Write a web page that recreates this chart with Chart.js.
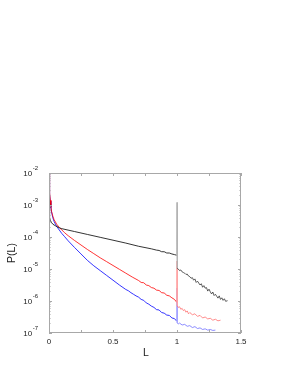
<!DOCTYPE html>
<html>
<head>
<meta charset="utf-8">
<script src="https://cdn.jsdelivr.net/npm/chart.js@4"></script>
<style>
  body { margin: 0; background: #fff; }
  canvas { display: block; }
</style>
</head>
<body>
<canvas id="myChart" width="291" height="376"></canvas>
<script>
// values, P stored as log10
var blackL = [0, 0.003, 0.006, 0.01, 0.02, 0.03, 0.05, 0.08, 0.1, 0.2, 0.3, 0.4, 0.5, 0.6, 0.7, 0.8, 0.82, 0.84, 0.86, 0.88, 0.9, 0.92, 0.94, 0.96, 0.98, 0.998,
  1.0, 1.002, 1.01, 1.02, 1.03, 1.04, 1.05, 1.06, 1.07, 1.08, 1.09, 1.1, 1.11, 1.12, 1.13, 1.14, 1.15, 1.16, 1.17, 1.18, 1.19, 1.2, 1.21, 1.22, 1.23, 1.24, 1.25,
  1.26, 1.27, 1.28, 1.29, 1.3, 1.31, 1.32, 1.33, 1.34, 1.35, 1.36, 1.37, 1.38, 1.395];
var blackLogP = [-2.95, -3.25, -3.4, -3.48, -3.55, -3.6, -3.65, -3.71, -3.74, -3.83, -3.92, -4.01, -4.1, -4.19, -4.29, -4.37, -4.39, -4.41, -4.42, -4.46, -4.46, -4.5, -4.5, -4.53, -4.55, -4.57,
  -2.92, -4.98, -5.0, -5.05, -5.03, -5.09, -5.11, -5.13, -5.17, -5.16, -5.22, -5.24, -5.29, -5.27, -5.35, -5.31, -5.42, -5.38, -5.44, -5.5, -5.46, -5.57, -5.52, -5.6, -5.58, -5.69, -5.63,
  -5.71, -5.78, -5.72, -5.83, -5.79, -5.85, -5.91, -5.84, -5.95, -5.9, -5.98, -5.93, -6.01, -5.99];

var redL = [0, 0.003, 0.006, 0.01, 0.015, 0.02, 0.03, 0.04, 0.06, 0.08, 0.1, 0.12, 0.15, 0.2, 0.25, 0.3, 0.35, 0.4, 0.45, 0.5, 0.55, 0.6, 0.65, 0.7,
  0.72, 0.74, 0.76, 0.78, 0.8, 0.82, 0.84, 0.86, 0.88, 0.9, 0.92, 0.94, 0.96, 0.98, 0.998,
  1.0, 1.002, 1.01, 1.02, 1.03, 1.04, 1.05, 1.06, 1.07, 1.08, 1.09, 1.1, 1.12, 1.14, 1.16, 1.18, 1.2, 1.22, 1.24, 1.26, 1.28, 1.3, 1.32, 1.34];
var redLogP = [-2.0, -2.35, -2.6, -2.85, -3.05, -3.2, -3.35, -3.46, -3.6, -3.7, -3.78, -3.86, -3.96, -4.11, -4.25, -4.39, -4.52, -4.65, -4.77, -4.89, -5.01, -5.13, -5.25, -5.36,
  -5.42, -5.43, -5.5, -5.52, -5.58, -5.6, -5.66, -5.67, -5.74, -5.75, -5.82, -5.84, -5.9, -5.95, -6.04,
  -4.75, -6.15, -6.2, -6.18, -6.26, -6.23, -6.3, -6.27, -6.35, -6.31, -6.4, -6.36, -6.43, -6.4, -6.48, -6.45, -6.53, -6.5, -6.56, -6.54, -6.6, -6.57, -6.62, -6.6];

var blueL = [0, 0.003, 0.006, 0.01, 0.015, 0.02, 0.03, 0.04, 0.06, 0.08, 0.1, 0.12, 0.15, 0.2, 0.25, 0.3, 0.35, 0.4, 0.45, 0.5, 0.55, 0.6,
  0.62, 0.64, 0.66, 0.68, 0.7, 0.72, 0.74, 0.76, 0.78, 0.8, 0.82, 0.84, 0.86, 0.88, 0.9, 0.92, 0.94, 0.96, 0.98, 0.998,
  1.0, 1.002, 1.01, 1.02, 1.04, 1.06, 1.08, 1.1, 1.12, 1.14, 1.16, 1.18, 1.2, 1.22, 1.24, 1.26, 1.28, 1.3];
var blueLogP = [-2.0, -2.4, -2.65, -2.88, -3.08, -3.22, -3.4, -3.52, -3.67, -3.78, -3.89, -3.98, -4.12, -4.33, -4.53, -4.73, -4.9, -5.05, -5.2, -5.35, -5.5, -5.64,
  -5.68, -5.74, -5.79, -5.84, -5.88, -5.95, -5.98, -6.06, -6.1, -6.16, -6.2, -6.27, -6.28, -6.36, -6.38, -6.44, -6.45, -6.53, -6.55, -6.63,
  -5.6, -6.68, -6.72, -6.69, -6.75, -6.73, -6.79, -6.77, -6.83, -6.8, -6.86, -6.84, -6.89, -6.87, -6.91, -6.89, -6.92, -6.91];

var xTicks = [0, 0.5, 1, 1.5];
var xTickLabels = ['0', '0.5', '1', '1.5'];
var xMinorTicks = [0.25, 0.75, 1.25];
var yExponents = [-2, -3, -4, -5, -6, -7];

var FONT = '"Liberation Sans", Arial, sans-serif';

function points(xs, logs) {
    return xs.map(function (x, i) { return { x: x, y: Math.pow(10, logs[i]) }; });
}

// spike at L=1 and the tail after it look paler in the picture
function tailColor(main, tail, spike) {
    return function (s) {
        if (s.p0.parsed.x === 1.0 || s.p1.parsed.x === 1.0) return spike;
        return s.p0.parsed.x > 1.0 ? tail : main;
    };
}

// box, inward ticks and labels (gnuplot look)
var frame = {
    id: 'frame',
    afterDatasetsDraw: function (chart) {
        var c = chart.ctx, a = chart.chartArea;
        var xs = chart.scales.x, ys = chart.scales.y;
        c.save();
        c.strokeStyle = '#a8a8a8';
        c.lineWidth = 1;
        c.strokeRect(a.left + 0.5, a.top + 0.5, a.right - a.left - 1, a.bottom - a.top - 1);

        c.beginPath();
        xTicks.concat(xMinorTicks).forEach(function (v) {
            var px = Math.round(xs.getPixelForValue(v)) + 0.5;
            c.moveTo(px, a.bottom); c.lineTo(px, a.bottom - 3);
            c.moveTo(px, a.top); c.lineTo(px, a.top + 3);
        });
        yExponents.forEach(function (e) {
            for (var m = 1; m < 10; m++) {
                if (e === -2 && m > 1) break;
                var py = Math.round(ys.getPixelForValue(m * Math.pow(10, e))) + 0.5;
                var len = m === 1 ? 3 : 1.5;
                c.moveTo(a.left, py); c.lineTo(a.left + len, py);
                c.moveTo(a.right, py); c.lineTo(a.right - len, py);
            }
        });
        c.stroke();

        c.fillStyle = '#222';
        c.textBaseline = 'middle';
        c.textAlign = 'center';
        c.font = '8px ' + FONT;
        xTicks.forEach(function (v, i) {
            c.fillText(xTickLabels[i], xs.getPixelForValue(v), a.bottom + 9);
        });

        yExponents.forEach(function (e) {
            var py = ys.getPixelForValue(Math.pow(10, e));
            var sup = '-' + Math.abs(e);
            c.font = '6px ' + FONT;
            c.textAlign = 'right';
            var w = c.measureText(sup).width;
            c.fillText(sup, a.left - 11, py - 5);
            c.font = '8px ' + FONT;
            c.fillText('10', a.left - 11 - w - 0.5, py + 1);
        });

        c.font = '10.5px ' + FONT;
        c.textAlign = 'center';
        c.fillText('L', (a.left + a.right) / 2 + 1, a.bottom + 20);
        c.translate(12, 253);
        c.rotate(-Math.PI / 2);
        c.fillText('P(L)', 0, 0);
        c.restore();
    }
};

var ctx = document.getElementById('myChart');
var myChart = new Chart(ctx, {
    type: 'line',
    data: {
        datasets: [{
            label: 'black',
            data: points(blackL, blackLogP),
            borderColor: '#000000',
            segment: { borderColor: tailColor('#000000', '#333333', '#b0b0b0') },
            order: 0
        }, {
            label: 'red',
            data: points(redL, redLogP),
            borderColor: '#ff0000',
            segment: { borderColor: tailColor('#ff0000', '#ff7070', '#ffa0a0') },
            order: 1
        }, {
            label: 'blue',
            data: points(blueL, blueLogP),
            borderColor: '#0000ff',
            segment: { borderColor: tailColor('#0000ff', '#7070ff', '#a0a0ff') },
            order: 2
        }]
    },
    options: {
        responsive: false,
        animation: false,
        events: [],
        layout: { padding: { left: 49, top: 173, right: 50, bottom: 43 } },
        elements: {
            line: { borderWidth: 0.8, tension: 0, fill: false },
            point: { radius: 0 }
        },
        plugins: { legend: { display: false }, tooltip: { enabled: false } },
        scales: {
            x: { type: 'linear', min: 0, max: 1.5, display: false },
            y: { type: 'logarithmic', min: 1e-7, max: 1e-2, display: false }
        }
    },
    plugins: [frame]
});
</script>
</body>
</html>
